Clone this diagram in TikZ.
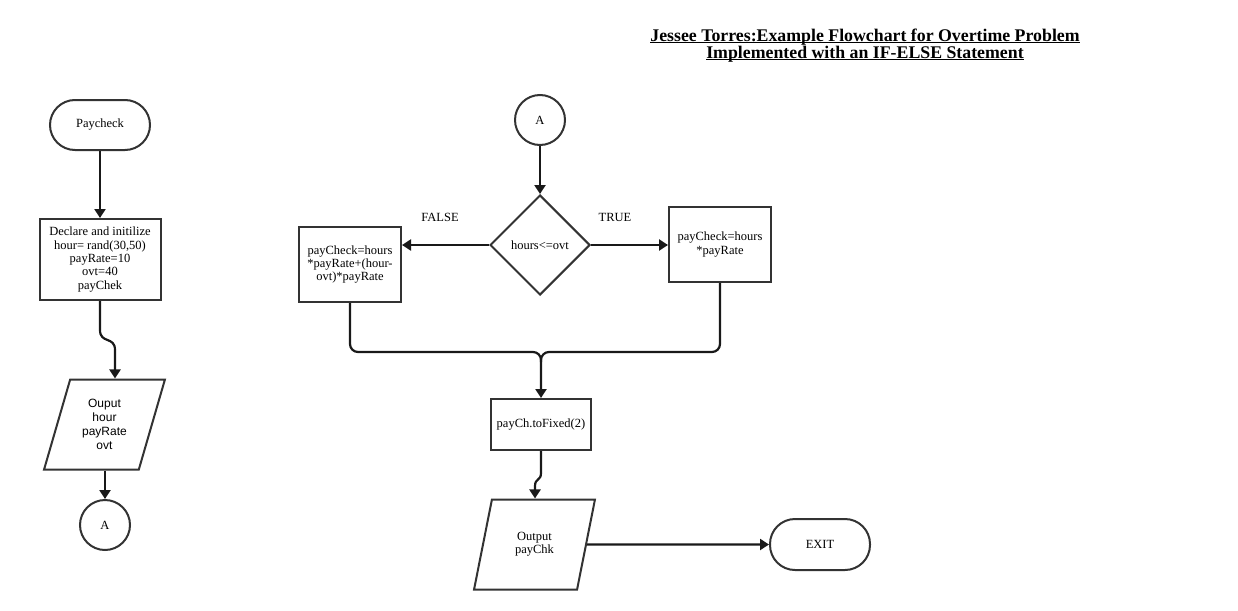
\documentclass[tikz,border=0pt]{standalone}
\usepackage{fontspec}
\setmainfont{Liberation Serif}
\newfontfamily\arialf{Liberation Sans}
\usetikzlibrary{shapes.geometric,arrows.meta}
\newcommand\myul[1]{\leavevmode\setbox0\hbox{#1}\rlap{\rule[-2pt]{\wd0}{1.1pt}}\box0}
\begin{document}
\begin{tikzpicture}[x=1pt,y=-1pt,
  shp/.style={draw=black!80, line width=2pt, fill=white, align=center, inner sep=0pt, font=\fontsize{12.5}{13.3}\selectfont},
  term/.style={shp, rectangle, rounded corners=25pt, minimum width=100pt, minimum height=50pt},
  proc/.style={shp, rectangle},
  conn/.style={shp, circle, minimum size=50pt},
  dec/.style={shp, diamond, minimum width=100pt, minimum height=100pt, aspect=1},
  io/.style={shp, trapezium, trapezium left angle=71.4, trapezium right angle=108.6, trapezium stretches=true, minimum width=121pt, minimum height=90pt},
  flowline/.style={draw=black!90, line width=2.2pt},
  flow/.style={flowline, -{Triangle[length=9pt,width=11pt]}},
  lbl/.style={font=\fontsize{12.5}{14}\selectfont, inner sep=0pt}
]
\useasboundingbox (0,0) rectangle (1238,610);

% title
\node[font=\bfseries\fontsize{17.8}{17}\selectfont, align=center, inner sep=0pt] (title) at (865,45.5)
  {\myul{Jessee Torres:Example Flowchart for Overtime Problem}\\\myul{Implemented with an IF-ELSE Statement}};

% left column
\node[term] (start) at (100,125) {Paycheck};
\node[proc, minimum width=121pt, minimum height=81pt] (decl) at (100,259.5)
  {Declare and initilize\\hour= rand(30,50)\\payRate=10\\ovt=40\\payChek};
\node[io, font=\arialf\fontsize{12}{14}\selectfont] (out1) at (104.5,424.5) {Ouput\\hour\\payRate\\ovt};
\node[conn] (a1) at (105,525) {A};

\draw[flow] (start) -- (decl);
\coordinate (s1) at (100,330);
\coordinate (s2) at (115,350);
\draw[flow] (decl.south) -- (s1) .. controls (100,344) and (115,336) .. (s2) -- (s2 |- out1.north);
\draw[flow] (a1.north |- out1.south) -- (a1.north);

% right part
\node[conn] (a2) at (540,120) {A};
\node[dec] (dia) at (540,245) {hours<=ovt};
\node[proc, minimum width=102pt, minimum height=75pt] (lbox) at (350,264.5)
  {payCheck=hours\\*payRate+(hour-\\ovt)*payRate};
\node[proc, minimum width=102pt, minimum height=75pt] (rbox) at (720,244.5)
  {payCheck=hours\\*payRate};
\node[lbl] (f) at (440,217) {FALSE};
\node[lbl] (t) at (615,217) {TRUE};
\node[proc, minimum width=100pt, minimum height=51pt] (fix) at (541,424.5) {payCh.toFixed(2)};
\node[io] (out2) at (534.5,544.5) {Output\\payChk};
\node[term, minimum width=100pt, minimum height=51pt] (exit) at (820,544.5) {EXIT};

\draw[flow] (a2) -- (dia);
\draw[flow] (dia.west) -- (dia.west -| lbox.east);
\draw[flow] (dia.east) -- (dia.east -| rbox.west);
\coordinate (m) at (541,352);
\draw[flow, rounded corners=8pt] (lbox.south) |- (m) -- (fix.north);
\draw[flowline, rounded corners=8pt] (rbox.south) |- (m) -- ++(0,10);
\coordinate (c1) at (541,473);
\coordinate (c2) at (535,486);
\draw[flow] (fix.south) -- (c1) .. controls (541,481) and (535,478) .. (c2) -- (c2 |- out2.north);
\draw[flow] (out2.east) -- (exit.west);
\end{tikzpicture}
\end{document}
